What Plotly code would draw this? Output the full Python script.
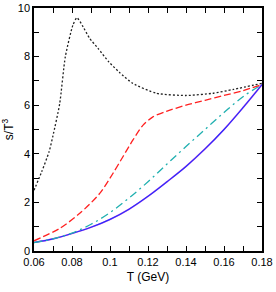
import plotly.graph_objects as go

# Black dotted
T_black = [0.06, 0.064, 0.068, 0.07, 0.0735, 0.0765, 0.0805, 0.0826, 0.0858, 0.0893, 0.0937, 0.0993,
           0.105, 0.112, 0.1244, 0.14, 0.154, 0.165, 0.18]
s_black = [2.5, 3.25, 4.1, 4.75, 6.05, 8.0, 9.3, 9.6, 9.23, 8.75, 8.34, 7.79,
           7.35, 6.9, 6.49, 6.4, 6.49, 6.65, 6.9]

# Red long dash
T_red = [0.06, 0.0735, 0.0841, 0.0946, 0.1016, 0.1068, 0.1121, 0.1174, 0.1226, 0.1297, 0.14, 0.15, 0.16, 0.17, 0.18]
s_red = [0.42, 0.93, 1.55, 2.37, 3.2, 3.88, 4.57, 5.18, 5.52, 5.75, 6.0, 6.2, 6.4, 6.6, 6.85]

# Cyan dash-dot
T_grid = [0.06, 0.07, 0.08, 0.09, 0.10, 0.11, 0.12, 0.13, 0.14, 0.15, 0.16, 0.17, 0.18]
s_cyan = [0.35, 0.5, 0.74, 1.1, 1.58, 2.18, 2.85, 3.58, 4.3, 5.0, 5.7, 6.35, 6.85]

# Blue solid (with magenta underneath)
s_blue = [0.35, 0.5, 0.72, 0.98, 1.3, 1.72, 2.25, 2.85, 3.48, 4.2, 5.0, 5.9, 6.85]

x_ticks = [0.06, 0.08, 0.1, 0.12, 0.14, 0.16, 0.18]
x_labels = ["0.06", "0.08", "0.1", "0.12", "0.14", "0.16", "0.18"]
y_ticks = [0, 2, 4, 6, 8, 10]
y_labels = ["0", "2", "4", "6", "8", "10"]

FONT = "Liberation Sans, Arial"

fig = go.Figure()
fig.add_trace(go.Scatter(x=T_grid, y=s_blue, mode="lines",
                         line=dict(color="#e070e0", width=1.7, shape="spline", smoothing=1.0)))
fig.add_trace(go.Scatter(x=T_grid, y=s_blue, mode="lines",
                         line=dict(color="#2a2aff", width=1.2, shape="spline", smoothing=1.0)))
fig.add_trace(go.Scatter(x=T_grid, y=s_cyan, mode="lines",
                         line=dict(color="#20b0b0", width=1.3, dash="8px,4px,2px,4px", shape="spline", smoothing=1.0)))
fig.add_trace(go.Scatter(x=T_red, y=s_red, mode="lines",
                         line=dict(color="#ff2020", width=1.3, dash="7px,3px", shape="spline", smoothing=0.8)))
fig.add_trace(go.Scatter(x=T_black, y=s_black, mode="lines",
                         line=dict(color="#222222", width=1.3, dash="2px,2px", shape="spline", smoothing=0.6)))

axis_common = dict(showgrid=False, zeroline=False, showline=True, linecolor="black", linewidth=1.5,
                   mirror="allticks", ticks="inside", ticklen=5, tickwidth=1, tickcolor="black",
                   tickfont=dict(family=FONT, size=11, color="black"))

fig.update_xaxes(range=[0.06, 0.18], tickvals=x_ticks, ticktext=x_labels,
                 minor=dict(ticks="inside", ticklen=5, dtick=0.01, tick0=0.06, tickcolor="black"),
                 title=dict(text="T (GeV)", font=dict(family=FONT, size=12, color="black"), standoff=6),
                 **axis_common)
fig.update_yaxes(range=[0, 10], tickvals=y_ticks, ticktext=y_labels,
                 minor=dict(ticks="inside", ticklen=5, dtick=1, tick0=0, tickcolor="black"),
                 title=dict(text="s/T<sup>3</sup>", font=dict(family=FONT, size=12, color="black"), standoff=6),
                 **axis_common)

fig.update_layout(width=276, height=292, margin=dict(l=34, r=14, t=8, b=41, autoexpand=False),
                  showlegend=False, plot_bgcolor="white", paper_bgcolor="white")

fig.write_html("out.html", config={"displayModeBar": False},
               post_script="document.body.style.margin='0';document.body.style.overflow='hidden';")
